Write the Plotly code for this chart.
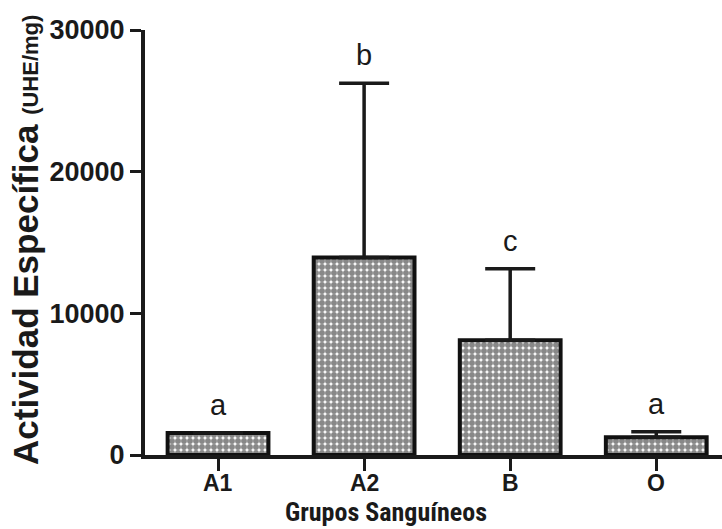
import plotly.graph_objects as go

categories = ["A1", "A2", "B", "O"]
actividad = [1550, 13950, 8100, 1250]
error_sup = [0, 12300, 5050, 400]
letras = ["a", "b", "c", "a"]
y_ticks = [0, 10000, 20000, 30000]

FONT = "Liberation Sans, Arial, sans-serif"

fig = go.Figure()
fig.add_trace(go.Bar(
    x=list(range(len(categories))),
    y=actividad,
    width=0.69,
    marker=dict(
        color="white",
        line=dict(color="#111111", width=4),
        pattern=dict(shape=".", size=6, solidity=0.75, fgcolor="#111111", bgcolor="white", fillmode="overlay"),
    ),
    error_y=dict(type="data", symmetric=False, array=error_sup, arrayminus=[0] * 4,
                 color="#1a1a1a", thickness=3.5, width=25),
    showlegend=False,
))

for i, (v, e, l) in enumerate(zip(actividad, error_sup, letras)):
    fig.add_annotation(x=i, y=v + e, text=l, showarrow=False, yanchor="bottom", yshift=10,
                       font=dict(family=FONT, size=29, color="#1a1a1a"))

# x tick labels as annotations (kept close to the axis as in the reference)
for i, c in enumerate(categories):
    fig.add_annotation(x=i, xref="x", yref="paper", y=-(469 - 455) / 425, text=c,
                       showarrow=False, yanchor="top", borderpad=0,
                       font=dict(family=FONT, size=23, color="#1a1a1a", weight="bold"))

fig.add_annotation(
    xref="paper", yref="paper", x=(25 - 145) / 577, y=(455 - 240) / 425,
    text="<b>Actividad Específica </b><span style='font-size:22px'><b>(UHE/mg)</b></span>",
    textangle=-90, showarrow=False, xanchor="center", yanchor="middle",
    font=dict(family=FONT, size=35, color="#1a1a1a"),
)
fig.add_annotation(
    xref="paper", yref="paper", x=(386 - 145) / 577, y=-(528 - 455) / 425,
    text="<b>Grupos Sanguíneos</b>", showarrow=False, xanchor="center", yanchor="bottom",
    borderpad=0,
    font=dict(family="Liberation Sans Narrow, Roboto Condensed, " + FONT, size=26, color="#1a1a1a"),
)

fig.update_layout(
    width=722, height=529,
    margin=dict(l=145, r=0, t=30, b=74),
    paper_bgcolor="white", plot_bgcolor="white",
    xaxis=dict(
        range=[-0.5, 3.45], tickmode="array", tickvals=list(range(len(categories))), ticktext=categories,
        showticklabels=False,
        showline=True, linewidth=4, linecolor="#1a1a1a", ticks="outside", ticklen=12, tickwidth=3,
        tickcolor="#1a1a1a", showgrid=False, zeroline=False,
    ),
    yaxis=dict(
        range=[0, 30000], tickmode="array", tickvals=y_ticks, ticktext=[str(t) for t in y_ticks],
        showline=True, linewidth=4, linecolor="#1a1a1a", ticks="outside", ticklen=11, tickwidth=3,
        tickcolor="#1a1a1a", showgrid=False, zeroline=False,
        tickfont=dict(family=FONT, size=27, color="#1a1a1a", weight="bold"),
    ),
)

fig.write_html("out.html")
